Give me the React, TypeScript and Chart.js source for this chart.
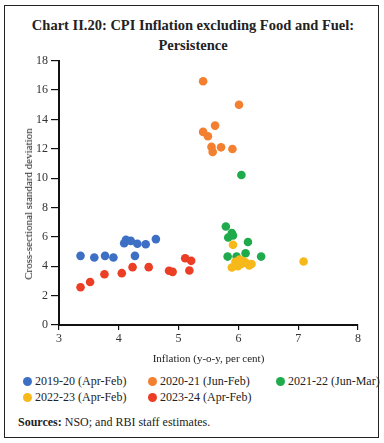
import React, { useEffect, useRef } from "react";
import { Chart, registerables } from "chart.js";

Chart.register(...registerables);

const seriesLabels = [
  "2019-20 (Apr-Feb)",
  "2020-21 (Jun-Feb)",
  "2021-22 (Jun-Mar)",
  "2022-23 (Apr-Feb)",
  "2023-24 (Apr-Feb)",
];
const seriesColors = ["#3d6fc4", "#f28030", "#1faa4c", "#f7b81a", "#ec3d25"];

const x2019 = [3.36, 3.59, 3.77, 3.91, 4.09, 4.12, 4.2, 4.31, 4.27, 4.45, 4.62];
const y2019 = [4.71, 4.6, 4.71, 4.6, 5.57, 5.8, 5.73, 5.53, 4.71, 5.5, 5.85];

const x2020 = [5.41, 6.01, 5.61, 5.41, 5.49, 5.55, 5.57, 5.71, 5.9];
const y2020 = [16.6, 15.0, 13.58, 13.15, 12.85, 12.13, 11.79, 12.1, 11.99];

const x2021 = [6.05, 5.79, 5.89, 5.91, 5.83, 6.16, 5.82, 5.97, 6.12, 6.38];
const y2021 = [10.22, 6.71, 6.26, 6.1, 5.96, 5.65, 4.66, 4.66, 4.89, 4.66];

const x2022 = [5.91, 7.09, 5.89, 5.95, 5.99, 6.02, 6.05, 6.08, 6.12, 6.18, 6.22];
const y2022 = [5.46, 4.32, 3.92, 4.3, 4.0, 4.45, 4.15, 4.35, 4.25, 4.05, 4.15];

const x2023 = [3.36, 3.52, 3.76, 4.05, 4.23, 4.5, 4.84, 4.9, 5.11, 5.21, 5.18];
const y2023 = [2.57, 2.93, 3.46, 3.53, 3.94, 3.94, 3.69, 3.62, 4.55, 4.37, 3.71];

const seriesX = [x2019, x2020, x2021, x2022, x2023];
const seriesY = [y2019, y2020, y2021, y2022, y2023];
const drawOrder = [3, 4, 2, 0, 1];

const xTitle = "Inflation (y-o-y, per cent)";
const yTitle = "Cross-sectional standard deviation";
const titleLines = ["Chart II.20: CPI Inflation excluding Food and Fuel:", "Persistence"];

const FONT = "'Liberation Serif', 'DejaVu Serif', serif";

export default function App() {
  const canvasRef = useRef<HTMLCanvasElement | null>(null);

  useEffect(() => {
    const canvas = canvasRef.current;
    if (!canvas) return;
    const datasets = seriesLabels.map((label, i) => ({
      label,
      data: seriesX[i].map((x, j) => ({ x, y: seriesY[i][j] })),
      backgroundColor: seriesColors[i],
      borderWidth: 0,
      pointRadius: 4.3,
      order: drawOrder[i],
    }));
    const chart = new Chart(canvas, {
      type: "scatter",
      data: { datasets },
      options: {
        animation: false,
        responsive: false,
        layout: { padding: { left: 0, right: 18, top: 10.7, bottom: 0 } },
        plugins: { legend: { display: false }, tooltip: { enabled: false } },
        scales: {
          x: {
            type: "linear",
            min: 3,
            max: 8,
            afterFit: (s: any) => {
              s.height = 45;
            },
            ticks: { stepSize: 1, color: "#333", padding: 2, font: { family: FONT, size: 12 } },
            grid: { drawOnChartArea: false, drawTicks: true, tickLength: 5, color: "#111", lineWidth: 1.2 },
            border: { display: true, color: "#111", width: 2 },
            title: {
              display: true,
              text: xTitle,
              color: "#222",
              font: { family: FONT, size: 11 },
              padding: { top: 0, bottom: 4.4 },
            },
          },
          y: {
            type: "linear",
            min: 0,
            max: 18,
            afterFit: (s: any) => {
              s.width = 55;
            },
            ticks: { stepSize: 2, color: "#333", padding: 3, font: { family: FONT, size: 12 } },
            grid: { drawOnChartArea: false, drawTicks: true, tickLength: 8, color: "#111", lineWidth: 1.2 },
            border: { display: true, color: "#111", width: 2 },
            title: { display: false },
          },
        },
      },
    });
    return () => chart.destroy();
  }, []);

  const legendPos = [
    { left: 23, top: 374 },
    { left: 148, top: 374 },
    { left: 276, top: 374 },
    { left: 23, top: 390 },
    { left: 148, top: 390 },
  ];

  return (
    <div
      style={{
        position: "absolute",
        left: 0,
        top: 0,
        width: 384,
        height: 443,
        background: "#fff",
        fontFamily: FONT,
        color: "#222",
        overflow: "hidden",
      }}
    >
      <div
        style={{
          position: "absolute",
          left: 4,
          top: 5,
          width: 375,
          height: 433,
          border: "1.5px solid #222",
          boxSizing: "border-box",
        }}
      />
      <div
        style={{
          position: "absolute",
          left: 0,
          top: 15,
          width: 386,
          textAlign: "center",
          fontWeight: "bold",
          fontSize: 14.5,
          lineHeight: "20px",
          color: "#222",
        }}
      >
        {titleLines.map((t) => (
          <div key={t}>{t}</div>
        ))}
      </div>
      <canvas
        ref={canvasRef}
        width={372}
        height={320}
        style={{ position: "absolute", left: 4, top: 50, width: 372, height: 320 }}
      />
      <div
        style={{
          position: "absolute",
          left: 28,
          top: 204,
          transform: "translate(-50%, -50%) rotate(-90deg)",
          whiteSpace: "nowrap",
          fontSize: 11,
          color: "#222",
        }}
      >
        {yTitle}
      </div>
      {seriesLabels.map((label, i) => (
        <div
          key={label}
          style={{
            position: "absolute",
            left: legendPos[i].left,
            top: legendPos[i].top,
            height: 14,
            display: "flex",
            alignItems: "center",
            whiteSpace: "nowrap",
            fontSize: 12,
            color: "#222",
          }}
        >
          <span
            style={{
              display: "inline-block",
              width: 9,
              height: 9,
              borderRadius: "50%",
              background: seriesColors[i],
              marginRight: 3,
            }}
          />
          <span>{label}</span>
        </div>
      ))}
      <div
        style={{
          position: "absolute",
          left: 18,
          top: 414,
          fontSize: 12,
          lineHeight: "16px",
          whiteSpace: "nowrap",
          color: "#222",
        }}
      >
        <b>Sources:</b> NSO; and RBI staff estimates.
      </div>
    </div>
  );
}
